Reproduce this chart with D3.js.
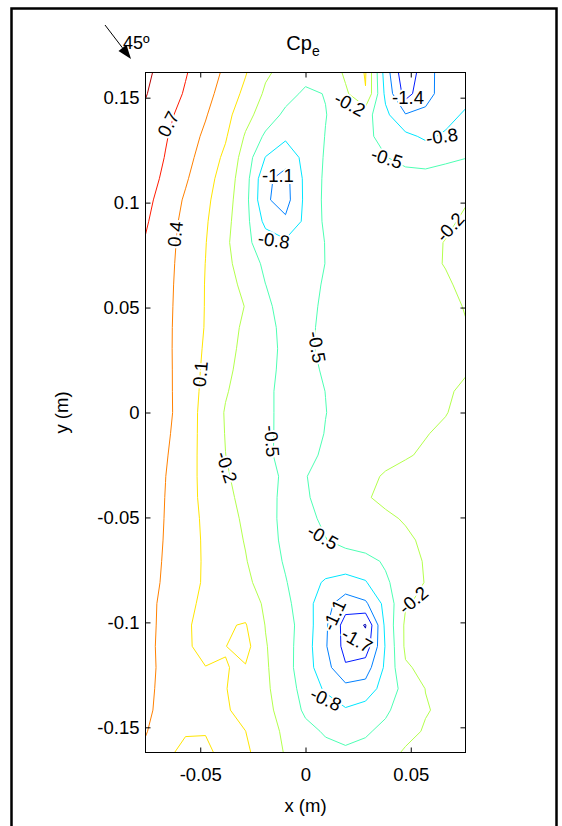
<!DOCTYPE html>
<html>
<head>
<meta charset="utf-8">
<script src="https://cdn.jsdelivr.net/npm/d3@7"></script>
<style>
	body { margin: 0; background: #fff; }
	text { font-family: "Liberation Sans", Arial, sans-serif; }
</style>
</head>
<body>
<div id="chart"></div>
<script>
// measurement grid (m): columns left -> right, rows top -> bottom
const xGrid = [-0.076, -0.0665, -0.057, -0.0475, -0.038, -0.0285, -0.019, -0.0095, 0,
	0.0095, 0.019, 0.0285, 0.038, 0.0475, 0.057, 0.0665, 0.076];

const yGrid = [0.162, 0.1519, 0.1418, 0.1316, 0.1215, 0.1114, 0.1013, 0.0911, 0.081, 0.0709,
	0.0608, 0.0506, 0.0405, 0.0304, 0.0203, 0.0101, 0, -0.0101, -0.0203, -0.0304, -0.0405,
	-0.0506, -0.0608, -0.0709, -0.081, -0.0911, -0.1013, -0.1114, -0.1215, -0.1316, -0.1418,
	-0.1519, -0.162];

// external pressure coefficient, one row per yGrid entry
const cpRows = [
	[1.06, 0.89, 0.72, 0.543, 0.35, 0.12, -0.157, -0.292, -0.40, -0.47, -0.142, 0.12, -0.944, -1.65, -1.2, -0.98, -0.92],
	[1.016, 0.845, 0.673, 0.49, 0.282, 0.029, -0.245, -0.40, -0.55, -0.49, -0.254, 0.088, -0.87, -1.52, -1.18, -1.0, -0.9],
	[0.95, 0.774, 0.598, 0.421, 0.2, -0.101, -0.346, -0.56, -0.68, -0.51, -0.35, -0.38, -0.73, -1.08, -1.05, -0.9, -0.76],
	[0.908, 0.724, 0.54, 0.348, 0.13, -0.229, -0.55, -0.75, -0.72, -0.49, -0.35, -0.44, -0.586, -0.728, -0.85, -0.76, -0.66],
	[0.886, 0.687, 0.49, 0.281, 0.039, -0.329, -0.81, -0.98, -0.714, -0.47, -0.34, -0.38, -0.49, -0.58, -0.6, -0.57, -0.51],
	[0.842, 0.637, 0.432, 0.216, -0.033, -0.374, -1.04, -1.2, -0.724, -0.45, -0.36, -0.35, -0.36, -0.40, -0.415, -0.34, -0.3],
	[0.783, 0.572, 0.365, 0.163, -0.073, -0.402, -1.06, -1.22, -0.728, -0.44, -0.36, -0.35, -0.35, -0.36, -0.35, -0.3, -0.22],
	[0.733, 0.528, 0.327, 0.132, -0.114, -0.405, -0.88, -1.046, -0.733, -0.45, -0.37, -0.36, -0.35, -0.34, -0.31, -0.25, -0.16],
	[0.68, 0.504, 0.308, 0.11, -0.14, -0.43, -0.65, -0.75, -0.7, -0.49, -0.38, -0.36, -0.34, -0.31, -0.27, -0.19, -0.12],
	[0.67, 0.49, 0.294, 0.097, -0.121, -0.352, -0.55, -0.66, -0.66, -0.495, -0.38, -0.35, -0.33, -0.30, -0.25, -0.19, -0.12],
	[0.66, 0.479, 0.284, 0.09, -0.085, -0.276, -0.498, -0.6, -0.6, -0.47, -0.37, -0.34, -0.32, -0.29, -0.26, -0.23, -0.15],
	[0.65, 0.471, 0.279, 0.089, -0.058, -0.21, -0.448, -0.6, -0.58, -0.45, -0.37, -0.35, -0.33, -0.31, -0.28, -0.25, -0.19],
	[0.64, 0.465, 0.274, 0.085, -0.082, -0.253, -0.43, -0.56, -0.58, -0.42, -0.37, -0.36, -0.34, -0.32, -0.30, -0.27, -0.21],
	[0.64, 0.467, 0.265, 0.066, -0.11, -0.274, -0.423, -0.55, -0.56, -0.43, -0.38, -0.37, -0.36, -0.34, -0.32, -0.29, -0.25],
	[0.64, 0.474, 0.257, 0.046, -0.142, -0.294, -0.43, -0.56, -0.57, -0.47, -0.39, -0.37, -0.35, -0.33, -0.30, -0.27, -0.22],
	[0.64, 0.479, 0.25, 0.028, -0.179, -0.318, -0.449, -0.57, -0.58, -0.498, -0.41, -0.37, -0.34, -0.31, -0.28, -0.23, -0.16],
	[0.64, 0.485, 0.246, 0.004, -0.219, -0.334, -0.449, -0.57, -0.6, -0.505, -0.42, -0.37, -0.33, -0.29, -0.25, -0.21, -0.13],
	[0.63, 0.456, 0.233, 0.008, -0.21, -0.327, -0.443, -0.58, -0.61, -0.49, -0.40, -0.34, -0.29, -0.24, -0.21, -0.16, -0.1],
	[0.61, 0.426, 0.221, 0.012, -0.198, -0.318, -0.436, -0.6, -0.6, -0.44, -0.35, -0.3, -0.26, -0.22, -0.17, -0.12, -0.07],
	[0.58, 0.403, 0.211, 0.019, -0.17, -0.303, -0.424, -0.54, -0.51, -0.4, -0.32, -0.25, -0.18, -0.13, -0.1, -0.08, -0.05],
	[0.58, 0.393, 0.207, 0.03, -0.133, -0.281, -0.418, -0.56, -0.53, -0.4, -0.31, -0.22, -0.15, -0.11, -0.09, -0.07, -0.05],
	[0.56, 0.387, 0.215, 0.05, -0.096, -0.247, -0.408, -0.57, -0.57, -0.45, -0.36, -0.3, -0.24, -0.18, -0.13, -0.1, -0.06],
	[0.543, 0.38, 0.218, 0.062, -0.075, -0.216, -0.39, -0.56, -0.62, -0.51, -0.398, -0.34, -0.29, -0.24, -0.16, -0.11, -0.07],
	[0.526, 0.37, 0.215, 0.067, -0.059, -0.185, -0.355, -0.53, -0.6, -0.64, -0.663, -0.6, -0.46, -0.3, -0.18, -0.12, -0.08],
	[0.511, 0.358, 0.205, 0.066, -0.04, -0.148, -0.295, -0.483, -0.674, -0.835, -0.89, -0.822, -0.55, -0.32, -0.19, -0.13, -0.09],
	[0.492, 0.33, 0.169, 0.04, 0.02, -0.05, -0.24, -0.424, -0.68, -0.99, -1.275, -1.15, -0.71, -0.22, -0.15, -0.11, -0.08],
	[0.492, 0.32, 0.13, 0.03, 0.075, 0.12, -0.21, -0.384, -0.64, -1.05, -1.52, -1.72, -0.727, -0.15, -0.12, -0.1, -0.08],
	[0.479, 0.318, 0.135, 0.03, 0.095, 0.2, -0.18, -0.39, -0.66, -1.07, -1.5, -1.58, -0.777, -0.15, -0.11, -0.09, -0.07],
	[0.47, 0.337, 0.22, 0.105, 0.105, 0.08, -0.164, -0.387, -0.672, -0.985, -1.368, -1.244, -0.746, -0.23, -0.14, -0.1, -0.08],
	[0.44, 0.353, 0.272, 0.19, 0.11, -0.017, -0.15, -0.36, -0.61, -0.84, -1.0, -0.98, -0.66, -0.407, -0.195, -0.12, -0.1],
	[0.43, 0.349, 0.275, 0.2, 0.128, 0.014, -0.125, -0.312, -0.55, -0.64, -0.773, -0.67, -0.54, -0.38, -0.22, -0.14, -0.11],
	[0.413, 0.287, 0.12, 0.11, 0.13, 0.102, -0.075, -0.253, -0.42, -0.53, -0.56, -0.53, -0.44, -0.3, -0.17, -0.12, -0.1],
	[0.36, 0.15, 0.04, 0.06, 0.16, 0.15, -0.04, -0.22, -0.32, -0.42, -0.47, -0.43, -0.32, -0.16, -0.1, -0.08, -0.07]
];

const levels = [-1.7, -1.4, -1.1, -0.8, -0.5, -0.2, 0.1, 0.4, 0.7, 1.0];

const xTicks = [-0.05, 0, 0.05];
const yTicks = [-0.15, -0.1, -0.05, 0, 0.05, 0.1, 0.15];

// inline contour labels (clabel style)
const labelSpots = [
	{ text: "0.7", x: -0.0653, y: 0.1375, angle: -62 },
	{ text: "0.4", x: -0.062, y: 0.085, angle: -84 },
	{ text: "0.1", x: -0.0501, y: 0.0183, angle: -85 },
	{ text: "-0.2", x: -0.0373, y: -0.026, angle: 72 },
	{ text: "-0.5", x: -0.0159, y: -0.0136, angle: 85 },
	{ text: "-0.5", x: 0.0055, y: 0.0312, angle: 80 },
	{ text: "-0.8", x: -0.015, y: 0.0822, angle: 8 },
	{ text: "-1.1", x: -0.0131, y: 0.1132, angle: 0 },
	{ text: "-0.2", x: 0.0211, y: 0.147, angle: 28 },
	{ text: "-1.4", x: 0.0487, y: 0.1503, angle: 0 },
	{ text: "-0.8", x: 0.0648, y: 0.1317, angle: -8 },
	{ text: "-0.5", x: 0.0387, y: 0.1213, angle: 18 },
	{ text: "-0.2", x: 0.0686, y: 0.0884, angle: -48 },
	{ text: "-0.5", x: 0.0083, y: -0.0593, angle: 30 },
	{ text: "-0.2", x: 0.0511, y: -0.0893, angle: -40 },
	{ text: "-1.1", x: 0.0135, y: -0.0965, angle: -65 },
	{ text: "-1.7", x: 0.0245, y: -0.1084, angle: 30 },
	{ text: "-0.8", x: 0.0097, y: -0.1365, angle: 25 }
];

const svg = d3.select("#chart")
	.append("svg")
	.attr("width", 562)
	.attr("height", 826);

// figure frame
svg.append("rect")
	.attr("x", 11.5)
	.attr("y", 8.5)
	.attr("width", 545)
	.attr("height", 900)
	.attr("fill", "none")
	.attr("stroke", "#000")
	.attr("stroke-width", 2.5);

const x = d3.scaleLinear().domain([-0.076, 0.076]).range([145.5, 465.5]);
const y = d3.scaleLinear().domain([-0.162, 0.162]).range([752.5, 72.5]);

// MATLAB jet
const jet = (t) => {
	const c = (v) => Math.round(255 * Math.max(0, Math.min(1, v)));
	return d3.rgb(
		c(1.5 - Math.abs(4 * t - 3)),
		c(1.5 - Math.abs(4 * t - 2)),
		c(1.5 - Math.abs(4 * t - 1))
	).formatHex();
};
const levelT = d3.scaleLinear().domain([-1.85, 1.15]).range([0, 1]);

svg.append("defs")
	.append("clipPath")
	.attr("id", "plot-clip")
	.append("rect")
	.attr("x", x.range()[0])
	.attr("y", y.range()[1])
	.attr("width", x.range()[1] - x.range()[0])
	.attr("height", y.range()[0] - y.range()[1]);

// grid index (cell centres at i + 0.5) -> metres
const gx = d3.scaleLinear().domain(xGrid.map((d, i) => i + 0.5)).range(xGrid);
const gy = d3.scaleLinear().domain(yGrid.map((d, i) => i + 0.5)).range(yGrid);

const path = d3.geoPath(d3.geoTransform({
	point: function (u, v) {
		this.stream.point(x(gx(u)), y(gy(v)));
	}
}));

const contours = d3.contours()
	.size([xGrid.length, yGrid.length])
	.thresholds(levels)(cpRows.flat());

svg.append("g")
	.attr("clip-path", "url(#plot-clip)")
	.selectAll("path")
	.data(contours)
	.enter()
	.append("path")
	.attr("d", path)
	.attr("fill", "none")
	.attr("stroke", (d) => jet(levelT(d.value)))
	.attr("stroke-width", 1)
	.attr("stroke-linejoin", "round");

svg.append("g")
	.selectAll("text")
	.data(labelSpots)
	.enter()
	.append("text")
	.attr("transform", (d) => `translate(${x(d.x)},${y(d.y)}) rotate(${d.angle})`)
	.attr("text-anchor", "middle")
	.attr("dy", "0.36em")
	.attr("font-size", 18.5)
	.attr("fill", "#000")
	.attr("stroke", "#fff")
	.attr("stroke-width", 4)
	.attr("paint-order", "stroke")
	.text((d) => d.text);

// axes: labelled left/bottom, bare ticks top/right, all ticks inward
const fmt = (d) => String(d);

const styleAxis = (g) => {
	g.select(".domain").remove();
	g.selectAll(".tick line").attr("stroke", "#000");
	g.selectAll(".tick text")
		.attr("font-size", 18.5)
		.attr("font-family", "'Liberation Sans', Arial, sans-serif")
		.attr("fill", "#000");
};

svg.append("g")
	.attr("transform", `translate(0,${y.range()[0]})`)
	.call(d3.axisBottom(x).tickValues(xTicks).tickSizeInner(-5).tickSizeOuter(0).tickPadding(15).tickFormat(fmt))
	.call(styleAxis);

svg.append("g")
	.attr("transform", `translate(${x.range()[0]},0)`)
	.call(d3.axisLeft(y).tickValues(yTicks).tickSizeInner(-5).tickSizeOuter(0).tickPadding(6).tickFormat(fmt))
	.call(styleAxis);

svg.append("g")
	.attr("transform", `translate(0,${y.range()[1]})`)
	.call(d3.axisTop(x).tickValues(xTicks).tickSizeInner(-5).tickSizeOuter(0).tickFormat(() => ""))
	.call(styleAxis);

svg.append("g")
	.attr("transform", `translate(${x.range()[1]},0)`)
	.call(d3.axisRight(y).tickValues(yTicks).tickSizeInner(-5).tickSizeOuter(0).tickFormat(() => ""))
	.call(styleAxis);

svg.append("rect")
	.attr("x", x.range()[0])
	.attr("y", y.range()[1])
	.attr("width", x.range()[1] - x.range()[0])
	.attr("height", y.range()[0] - y.range()[1])
	.attr("fill", "none")
	.attr("stroke", "#000")
	.attr("stroke-width", 1);

svg.append("text")
	.attr("x", 305.5)
	.attr("y", 812)
	.attr("text-anchor", "middle")
	.attr("font-size", 18.5)
	.text("x (m)");

svg.append("text")
	.attr("transform", "translate(68,412.5) rotate(-90)")
	.attr("text-anchor", "middle")
	.attr("font-size", 18.5)
	.text("y (m)");

const title = svg.append("text")
	.attr("x", 303)
	.attr("y", 50)
	.attr("text-anchor", "middle")
	.attr("font-size", 20);
title.append("tspan").text("Cp");
title.append("tspan").attr("dy", 6).attr("font-size", 14).text("e");

// wind direction arrow
const tail = [105, 25];
const tip = [131, 59];
const ang = Math.atan2(tip[1] - tail[1], tip[0] - tail[0]);
const headLen = 14;
const headHalf = 5;
const base = [tip[0] - headLen * Math.cos(ang), tip[1] - headLen * Math.sin(ang)];

svg.append("line")
	.attr("x1", tail[0]).attr("y1", tail[1])
	.attr("x2", base[0]).attr("y2", base[1])
	.attr("stroke", "#000")
	.attr("stroke-width", 1);

svg.append("path")
	.attr("d", d3.line()([
		tip,
		[base[0] + headHalf * Math.sin(ang), base[1] - headHalf * Math.cos(ang)],
		[base[0] - headHalf * Math.sin(ang), base[1] + headHalf * Math.cos(ang)]
	]) + "Z")
	.attr("fill", "#000");

svg.append("text")
	.attr("x", 123)
	.attr("y", 49)
	.attr("font-size", 18)
	.text("45º");
</script>
</body>
</html>
